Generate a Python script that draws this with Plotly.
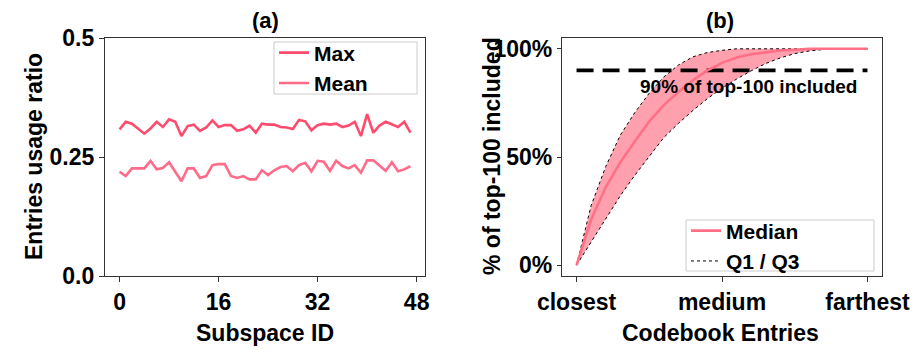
import plotly.graph_objects as go

# ---------------- data ----------------
subspace_id = list(range(48))
max_ratio = [0.308, 0.324, 0.320, 0.310, 0.299, 0.310, 0.324, 0.313, 0.329, 0.324,
             0.294, 0.315, 0.318, 0.305, 0.312, 0.327, 0.313, 0.317, 0.317, 0.305,
             0.308, 0.316, 0.301, 0.320, 0.318, 0.318, 0.313, 0.312, 0.309, 0.328,
             0.325, 0.306, 0.317, 0.320, 0.318, 0.320, 0.313, 0.316, 0.324, 0.294,
             0.340, 0.301, 0.316, 0.324, 0.318, 0.313, 0.324, 0.301]
mean_ratio = [0.219, 0.210, 0.226, 0.226, 0.226, 0.242, 0.224, 0.227, 0.239, 0.219,
              0.199, 0.226, 0.226, 0.206, 0.210, 0.233, 0.235, 0.235, 0.210, 0.206,
              0.210, 0.203, 0.203, 0.222, 0.212, 0.222, 0.229, 0.231, 0.220, 0.233,
              0.238, 0.220, 0.242, 0.240, 0.221, 0.242, 0.231, 0.226, 0.233, 0.217,
              0.243, 0.243, 0.232, 0.221, 0.239, 0.220, 0.224, 0.231]
left_xticks = [0, 16, 32, 48]
left_yticks = [0.0, 0.25, 0.5]
left_ytick_text = ["0.0", "0.25", "0.5"]

entry_pos = [0.00, 0.05, 0.10, 0.15, 0.20, 0.25, 0.30, 0.35, 0.40, 0.45, 0.50,
             0.55, 0.60, 0.65, 0.70, 0.75, 0.80, 0.85, 0.90, 0.95, 1.00]
median_pct = [0, 21, 36, 47.5, 57.2, 66.5, 74, 80, 85.5, 90, 93.5,
              96, 97.5, 98.5, 99.2, 99.6, 100, 100, 100, 100, 100]
q1_pct = [0, 27.5, 45.5, 60, 70.5, 79.5, 87, 92.5, 96.3, 98.3, 99.3,
          100, 100, 100, 100, 100, 100, 100, 100, 100, 100]
q3_pct = [0, 10.5, 21, 32, 41.5, 50.5, 59, 65.5, 71.5, 77, 81.8,
          86, 89.8, 93.2, 95.8, 97.8, 99, 99.7, 100, 100, 100]
thresh_x = [0, 1]
thresh_y = [90, 90]
right_xticks = [0, 0.5, 1]
right_xtick_text = ["closest", "medium", "farthest"]
right_yticks = [0, 50, 100]
right_ytick_text = ["0%", "50%", "100%"]

# ---------------- style ----------------
FONT = "Liberation Sans, Arial, sans-serif"
C_MAX = "#ff4b6e"
C_MEAN = "#ff6b88"
C_MED = "#ff6f86"
C_FILL = "rgba(255,150,166,0.9)"
W, H = 924, 356

def px(x):
    return x / W

def py(y):
    return 1 - y / H

fig = go.Figure()

fig.add_trace(go.Scatter(x=subspace_id, y=max_ratio, mode="lines", name="Max",
                         line=dict(color=C_MAX, width=2.6), xaxis="x", yaxis="y",
                         legend="legend"))
fig.add_trace(go.Scatter(x=subspace_id, y=mean_ratio, mode="lines", name="Mean",
                         line=dict(color=C_MEAN, width=2.6), xaxis="x", yaxis="y",
                         legend="legend"))

# band fill
fig.add_trace(go.Scatter(x=entry_pos, y=q3_pct, mode="lines", line=dict(width=0, color=C_FILL),
                         showlegend=False, hoverinfo="skip", xaxis="x2", yaxis="y2"))
fig.add_trace(go.Scatter(x=entry_pos, y=q1_pct, mode="lines", line=dict(width=0, color=C_FILL),
                         fill="tonexty", fillcolor=C_FILL,
                         showlegend=False, hoverinfo="skip", xaxis="x2", yaxis="y2"))
fig.add_trace(go.Scatter(x=thresh_x, y=thresh_y, mode="lines",
                         line=dict(color="black", width=3.8, dash="17px,9px"),
                         showlegend=False, xaxis="x2", yaxis="y2"))
fig.add_trace(go.Scatter(x=entry_pos, y=q1_pct, mode="lines", name="Q1 / Q3",
                         line=dict(color="black", width=1, dash="dot"),
                         xaxis="x2", yaxis="y2", legend="legend2", legendrank=2))
fig.add_trace(go.Scatter(x=entry_pos, y=q3_pct, mode="lines", name="Q1 / Q3",
                         line=dict(color="black", width=1, dash="dot"), showlegend=False,
                         xaxis="x2", yaxis="y2"))
fig.add_trace(go.Scatter(x=entry_pos, y=median_pct, mode="lines", name="Median",
                         line=dict(color=C_MED, width=2.6),
                         xaxis="x2", yaxis="y2", legend="legend2", legendrank=1))

axis_common = dict(showgrid=False, zeroline=False, showline=True, mirror=True,
                   automargin=False,
                   linecolor="#333333", linewidth=1.2, ticks="outside", ticklen=5,
                   tickwidth=1.2, tickcolor="#333333",
                   tickfont=dict(family=FONT, size=23, color="black", weight="bold"))

legend_font = dict(family=FONT, size=21, color="black", weight="bold")

fig.update_layout(
    template="none",
    width=W, height=H,
    margin=dict(l=0, r=0, t=0, b=0, autoexpand=False),
    plot_bgcolor="white", paper_bgcolor="white",
    font=dict(family=FONT, color="black"),
    xaxis=dict(axis_common, domain=[px(105), px(425)], range=[-2.35, 49.35],
               tickvals=left_xticks, anchor="y"),
    yaxis=dict(axis_common, domain=[py(276), py(38)], range=[0, 0.5],
               tickvals=left_yticks, ticktext=left_ytick_text, anchor="x"),
    xaxis2=dict(axis_common, domain=[px(562), px(882)], range=[-0.05, 1.05],
                tickvals=right_xticks, ticktext=right_xtick_text, anchor="y2"),
    yaxis2=dict(axis_common, domain=[py(276), py(38)], range=[-5, 105],
                tickvals=right_yticks, ticktext=right_ytick_text, anchor="x2", ticklen=4),
    legend=dict(x=px(274), y=py(68), xanchor="left", yanchor="middle",
                bgcolor="rgba(0,0,0,0)", borderwidth=0,
                font=legend_font, traceorder="normal", tracegroupgap=0),
    legend2=dict(x=px(686), y=py(246), xanchor="left", yanchor="middle",
                 bgcolor="rgba(0,0,0,0)", borderwidth=0,
                 font=legend_font, traceorder="normal"),
    showlegend=True,
)

# legend frames (matplotlib-style boxes)
shapes = [
    dict(type="rect", xref="paper", yref="paper", x0=px(274), x1=px(417), y0=py(94), y1=py(42),
         line=dict(color="#cccccc", width=1), fillcolor="white", layer="above"),
    dict(type="rect", xref="paper", yref="paper", x0=px(686), x1=px(874), y0=py(271), y1=py(220),
         line=dict(color="#cccccc", width=1), fillcolor="white", layer="above"),
]
fig.update_layout(shapes=shapes)

bold = lambda s: dict(family=FONT, size=s, color="black", weight="bold")
ann_common = dict(xref="paper", yref="paper", showarrow=False,
                  xanchor="center", yanchor="middle")
annotations = [
    dict(ann_common, text="(a)", x=px(265), y=py(21), font=bold(22)),
    dict(ann_common, text="(b)", x=px(720), y=py(21), font=bold(22)),
    dict(ann_common, text="Subspace ID", x=px(265), y=py(333), font=bold(23)),
    dict(ann_common, text="Codebook Entries", x=px(720), y=py(333), font=bold(23)),
    dict(ann_common, text="Entries usage ratio", x=px(34), y=py(157), textangle=-90,
         font=bold(23)),
    dict(ann_common, text="% of top-100 included", x=px(492), y=py(156), textangle=-90,
         font=bold(23)),
    dict(text="90% of top-100 included", x=0.97, y=82.6, xref="x2", yref="y2",
         xanchor="right", yanchor="middle", showarrow=False, font=bold(19)),
]
fig.update_layout(annotations=annotations)

fig.write_html("out.html", config={"displayModeBar": False},
               post_script="document.body.style.margin='0';")
